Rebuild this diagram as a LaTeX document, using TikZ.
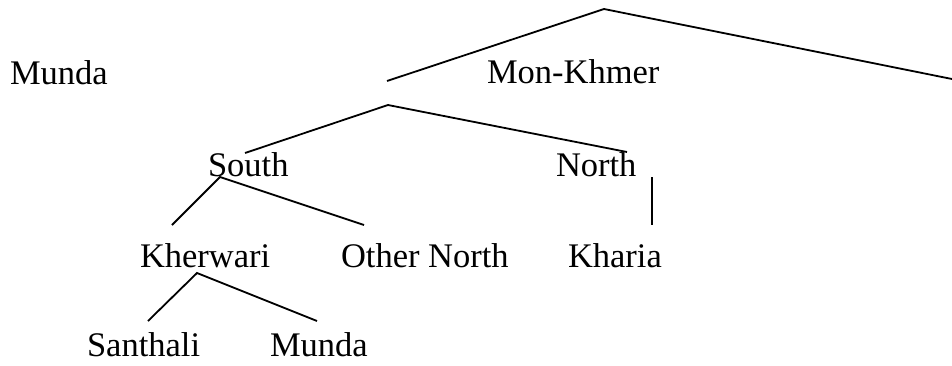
\documentclass[tikz,border=0pt]{standalone}
\usepackage{fontspec}
\setmainfont{Liberation Serif}
\begin{document}
\begin{tikzpicture}[x=1pt,y=-1pt,
  lbl/.style={anchor=base west,inner sep=0pt,outer sep=0pt,font=\fontsize{34.5}{40}\selectfont},
  edge/.style={line width=1.8pt,line cap=butt}]
\useasboundingbox (0,0) rectangle (952,365);
% labels
\node[lbl] (munda1) at (10,84) {Munda};
\node[lbl] (monkhmer) at (487,83) {Mon-Khmer};
\node[lbl] (south) at (208,176) {South};
\node[lbl] (north) at (556,176) {North};
\node[lbl] (kherwari) at (140,267) {Kherwari};
\node[lbl] (othernorth) at (341,267) {Other North};
\node[lbl] (kharia) at (568,267) {Kharia};
\node[lbl] (santhali) at (87,356) {Santhali};
\node[lbl] (munda2) at (270,356) {Munda};
% connector points
\coordinate (top) at (604,9);
\coordinate (topL) at (387,81);
\coordinate (topR) at (952,79);
\coordinate (mk) at (388,105);
\coordinate (mkL) at (245,153);
\coordinate (mkR) at (627,152);
\coordinate (nA) at (652,177);
\coordinate (nB) at (652,225);
\coordinate (sA) at (220,177);
\coordinate (sL) at (172,225);
\coordinate (sR) at (364,225);
\coordinate (kA) at (197,273);
\coordinate (kL) at (148,321);
\coordinate (kR) at (317,321);
% connectors
\draw[edge] (topL) -- (top) -- (topR);
\draw[edge] (mkL) -- (mk) -- (mkR);
\draw[edge] (nA) -- (nB);
\draw[edge] (sL) -- (sA) -- (sR);
\draw[edge] (kL) -- (kA) -- (kR);
\end{tikzpicture}
\end{document}
